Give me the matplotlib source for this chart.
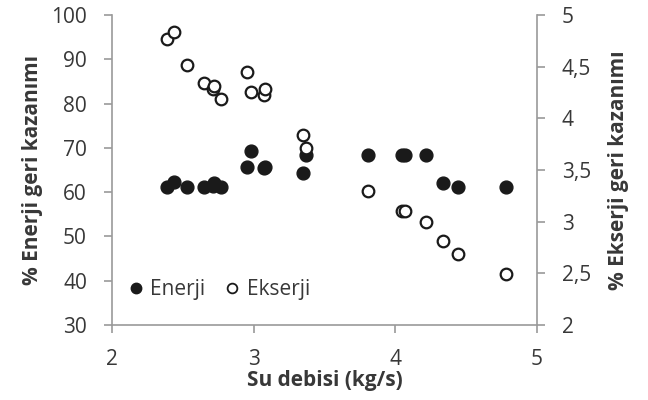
import matplotlib
matplotlib.use('Agg')
import matplotlib.pyplot as plt
from matplotlib.ticker import FuncFormatter, MultipleLocator
from matplotlib.lines import Line2D

plt.rcParams['font.family'] = ['Open Sans', 'DejaVu Sans']

# water flow rate (kg/s)
su_debisi = [2.39, 2.44, 2.53, 2.65, 2.71, 2.72, 2.77, 2.95, 2.98, 3.07,
             3.08, 3.35, 3.37, 3.81, 4.05, 4.07, 4.22, 4.34, 4.44, 4.78]
# energy recovery (%), left axis
enerji = [61.2, 62.4, 61.2, 61.2, 61.5, 62.0, 61.2, 65.6, 69.3, 65.4,
          65.6, 64.4, 68.5, 68.5, 68.5, 68.5, 68.5, 62.1, 61.2, 61.2]
# exergy recovery (%), right axis
ekserji = [4.765, 4.835, 4.513, 4.345, 4.281, 4.313, 4.184, 4.451, 4.255, 4.229,
           4.284, 3.836, 3.713, 3.300, 3.103, 3.103, 2.994, 2.81, 2.684, 2.497]

text_col = '#383838'
spine_col = '#9a9a9a'
dot_col = '#1a1a1a'
fs = 15

fig = plt.figure(figsize=(6.48, 4.0), dpi=100)
ax = fig.add_axes([0.1728, 0.1875, 0.6559, 0.775])
ax2 = ax.twinx()

ax.scatter(su_debisi, enerji, s=85, color=dot_col, edgecolors=dot_col, linewidths=1, zorder=3)
ax2.scatter(su_debisi, ekserji, s=70, facecolors='white', edgecolors=dot_col, linewidths=1.6, zorder=3)

ax.set_xlim(2, 5)
ax.set_ylim(30, 100)
ax2.set_ylim(2, 5)
ax.xaxis.set_major_locator(MultipleLocator(1))
ax.yaxis.set_major_locator(MultipleLocator(10))
ax2.yaxis.set_major_locator(MultipleLocator(0.5))
ax2.yaxis.set_major_formatter(FuncFormatter(lambda v, p: f'{v:g}'.replace('.', ',')))

for a in (ax, ax2):
    a.spines['top'].set_visible(False)
    for s in ('left', 'right', 'bottom'):
        a.spines[s].set_color(spine_col)
        a.spines[s].set_linewidth(1.2)
    a.tick_params(direction='out', length=6, width=1.2, color=spine_col,
                  labelsize=fs, labelcolor=text_col, pad=12)
ax.tick_params(axis='x', pad=11)
ax.spines['right'].set_visible(False)
ax2.spines['left'].set_visible(False)
ax2.spines['bottom'].set_visible(False)

ax.set_xlabel('Su debisi (kg/s)', fontsize=fs, fontweight='bold', color=text_col, labelpad=0)
ax.set_ylabel('% Enerji geri kazanımı', fontsize=fs, fontweight='bold', color=text_col, labelpad=6)
ax2.set_ylabel('% Ekserji geri kazanımı', fontsize=fs, fontweight='bold', color=text_col, labelpad=12)

handles = [Line2D([], [], marker='o', linestyle='none', markersize=7.5, color=dot_col),
           Line2D([], [], marker='o', linestyle='none', markersize=7, markerfacecolor='white',
                  markeredgecolor=dot_col, markeredgewidth=1.3)]
ax2.legend(handles, ['Enerji', 'Ekserji'], loc='lower left', bbox_to_anchor=(-0.018, 0.02), ncol=2,
           frameon=False, fontsize=fs, handletextpad=0.1, columnspacing=0.7,
           labelcolor=text_col, handlelength=1.2)

fig.savefig('out.png', dpi=100)
